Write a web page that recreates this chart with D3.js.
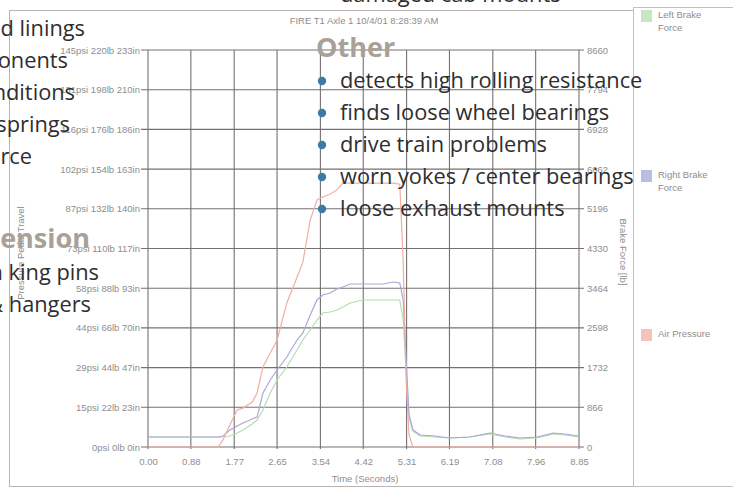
<!DOCTYPE html>
<html lang="en">
<head>
<meta charset="utf-8" />
<style>
body { margin: 0; background: #fff; }
svg { display: block; }
.lbl { fill: #8e8e8e; font-family: "Liberation Sans", Arial, sans-serif; font-size: 9.5px; }
.grid { stroke: #767070; stroke-width: 1.1px; }
.over { fill: #2e2e2e; font-family: "Open Sans", sans-serif; font-size: 21.8px; }
.head { fill: #a9a198; font-family: "Open Sans", sans-serif; font-size: 27px; font-weight: 700; }
</style>
</head>
<body>
<script src="https://cdn.jsdelivr.net/npm/d3@7"></script>
<script>
// time axis (seconds)
var timeTicks = [0.00, 0.88, 1.77, 2.65, 3.54, 4.42, 5.31, 6.19, 7.08, 7.96, 8.85];
var leftLabels = ["0psi 0lb 0in", "15psi 22lb 23in", "29psi 44lb 47in", "44psi 66lb 70in",
    "58psi 88lb 93in", "73psi 110lb 117in", "87psi 132lb 140in", "102psi 154lb 163in",
    "116psi 176lb 186in", "131psi 198lb 210in", "145psi 220lb 233in"];
var rightTicks = [0, 866, 1732, 2598, 3464, 4330, 5196, 6062, 6928, 7794, 8660];

// samples
var time = [0.00, 0.31, 0.86, 1.44, 1.54, 1.68, 1.83, 1.95, 2.14, 2.24, 2.36, 2.51, 2.65,
    2.85, 3.06, 3.18, 3.33, 3.47, 3.59, 3.74, 3.88, 4.00, 4.15, 4.41, 4.83, 5.03, 5.17,
    5.24, 5.30, 5.36, 5.44, 5.59, 5.89, 6.20, 6.61, 7.02, 7.33, 7.64, 7.99, 8.32, 8.56, 8.85];
var airPressure = [0, 0, 0, 0, 2.6, 8, 13.5, 14.2, 16.4, 19.7, 29.2, 34.3, 39,
    52.6, 62, 67.5, 82.9, 90.2, 91.3, 92.4, 93.9, 96.4, 96.4, 96.4, 96.4, 96.4, 96,
    68, 24.5, 4.4, 0, 0, 0, 0, 0, 0, 0, 0, 0, 0, 0, 0];
var rightBrake = [218, 218, 218, 218, 240, 371, 458, 524, 611, 654, 1178, 1462, 1680,
    1963, 2334, 2487, 2879, 3207, 3316, 3359, 3447, 3490, 3556, 3556, 3556, 3599, 3577,
    3207, 1898, 698, 371, 262, 240, 196, 218, 305, 240, 196, 218, 305, 284, 240];
var leftBrake = [218, 218, 218, 218, 218, 240, 305, 371, 502, 589, 807, 1178, 1462,
    1745, 2116, 2334, 2552, 2770, 2923, 2945, 2988, 3054, 3141, 3207, 3207, 3207, 3207,
    2770, 1680, 633, 349, 240, 218, 196, 218, 284, 218, 175, 196, 284, 262, 218];

var legendNames = [["Left Brake", "Force"], ["Right Brake", "Force"], ["Air Pressure"]];
var legendColors = ["#c6e6c6", "#bcbde3", "#f5c3ba"];
var lineColors = ["#b4dcb4", "#a9a8d6", "#f1aea2"];

var otherItems = ["detects high rolling resistance", "finds loose wheel bearings",
    "drive train problems", "worn yokes / center bearings", "loose exhaust mounts"];
var leftItems = ["worn pads and linings", "defective components", "out-of-round conditions",
    "broken springs", "uneven force"];
var suspItems = ["worn king pins", "worn shackles & hangers"];

var width = 733, height = 489;
var svg = d3.select("body").append("svg").attr("width", width).attr("height", height);

// frames
svg.append("rect").attr("x", 9.5).attr("y", 10.5).attr("width", 624).attr("height", 476)
    .attr("fill", "none").attr("stroke", "#b9b5b5");
svg.append("rect").attr("x", 633.5).attr("y", 7.5).attr("width", 110).attr("height", 479)
    .attr("fill", "none").attr("stroke", "#c4c0c0");

var x = d3.scaleLinear().domain([0, 8.85]).range([148, 579]);
var yP = d3.scaleLinear().domain([0, 145]).range([447, 50]);
var yF = d3.scaleLinear().domain([0, 8660]).range([447, 50]);
var pTicks = d3.range(11).map(function (i) { return i * 14.5; });

// grid
svg.append("g").selectAll("line").data(pTicks).enter().append("line")
    .attr("class", "grid")
    .attr("x1", 141).attr("x2", 584)
    .attr("y1", function (d) { return yP(d); }).attr("y2", function (d) { return yP(d); });
svg.append("g").selectAll("line").data(timeTicks).enter().append("line")
    .attr("class", "grid")
    .attr("x1", function (d) { return x(d); }).attr("x2", function (d) { return x(d); })
    .attr("y1", 50).attr("y2", 449);

// axes (labels only, lines come from the grid)
var gl = svg.append("g").attr("transform", "translate(141,0)")
    .call(d3.axisLeft(yP).tickValues(pTicks).tickSize(0).tickPadding(1)
        .tickFormat(function (d, i) { return leftLabels[i]; }));
var gr = svg.append("g").attr("transform", "translate(586,0)")
    .call(d3.axisRight(yF).tickValues(rightTicks).tickSize(0).tickPadding(1)
        .tickFormat(d3.format("d")));
var gb = svg.append("g").attr("transform", "translate(0,455)")
    .call(d3.axisBottom(x).tickValues(timeTicks).tickSize(0).tickPadding(3)
        .tickFormat(d3.format(".2f")));
[gl, gr, gb].forEach(function (g) {
    g.select(".domain").remove();
    g.selectAll("text").attr("class", "lbl").attr("fill", null)
        .style("font-family", null).style("font-size", null);
    g.attr("font-family", null).attr("font-size", null);
});

// lines
var series = [leftBrake, rightBrake, airPressure];
series.forEach(function (vals, k) {
    var yy = k === 2 ? yP : yF;
    var line = d3.line().x(function (d, i) { return x(time[i]); }).y(function (d) { return yy(d); });
    svg.append("path").datum(vals).attr("d", line)
        .attr("fill", "none").attr("stroke", lineColors[k]).attr("stroke-width", 1.2);
});

// titles
svg.append("text").attr("class", "lbl").attr("x", 364).attr("y", 24)
    .attr("text-anchor", "middle").text("FIRE T1 Axle 1 10/4/01 8:28:39 AM");
svg.append("text").attr("class", "lbl").attr("x", 365).attr("y", 482)
    .attr("text-anchor", "middle").text("Time (Seconds)");
svg.append("text").attr("class", "lbl").attr("transform", "translate(620,252) rotate(90)")
    .attr("text-anchor", "middle").text("Brake Force [lb]");
svg.append("text").attr("class", "lbl").attr("transform", "translate(24,253) rotate(-90)")
    .attr("text-anchor", "middle").text("Pressure  Pedal  Travel");

// legend
var legY = [10, 170, 329];
legendNames.forEach(function (nm, i) {
    svg.append("rect").attr("x", 641).attr("y", legY[i]).attr("width", 11).attr("height", 12)
        .attr("fill", legendColors[i]);
    nm.forEach(function (s, j) {
        svg.append("text").attr("class", "lbl").attr("x", 658).attr("y", legY[i] + 8 + j * 13)
            .attr("font-size", "9px").text(s);
    });
});

// brochure text on top
svg.append("text").attr("class", "over").attr("x", 340).attr("y", 2).text("damaged cab mounts");
svg.append("text").attr("class", "head").attr("x", 316).attr("y", 57).text("Other");
otherItems.forEach(function (s, i) {
    var by = 88 + i * 32;
    svg.append("circle").attr("cx", 322).attr("cy", by - 7).attr("r", 4.2).attr("fill", "#3a7ca6");
    svg.append("text").attr("class", "over").attr("x", 340).attr("y", by).text(s);
});
var leftEnds = [85, 68, 75, 70, 32];
leftItems.forEach(function (s, i) {
    svg.append("text").attr("class", "over").attr("x", leftEnds[i]).attr("y", 36 + i * 32)
        .attr("text-anchor", "end").text(s);
});
svg.append("text").attr("class", "head").attr("x", 90).attr("y", 248)
    .attr("text-anchor", "end").text("Suspension");
var suspEnds = [99, 91];
suspItems.forEach(function (s, i) {
    svg.append("text").attr("class", "over").attr("x", suspEnds[i]).attr("y", 280 + i * 32)
        .attr("text-anchor", "end").text(s);
});
</script>
</body>
</html>
